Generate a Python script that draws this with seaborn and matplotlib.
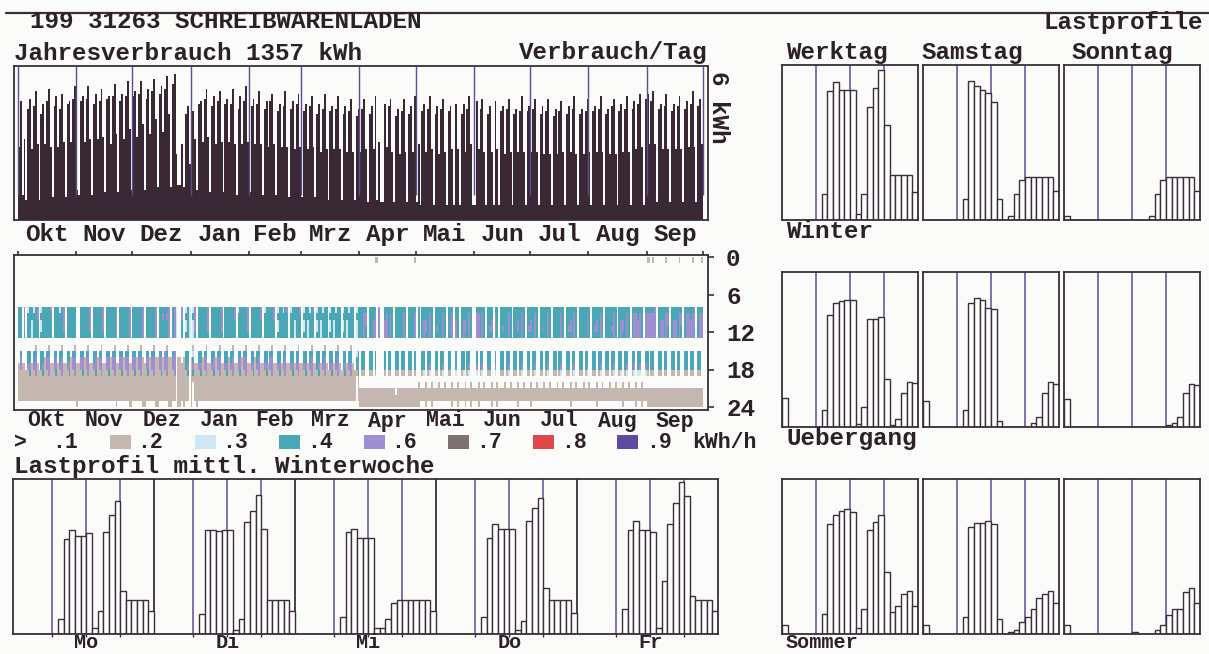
import numpy as np
import matplotlib
matplotlib.use("Agg")
import matplotlib.pyplot as plt
from matplotlib.colors import ListedColormap, BoundaryNorm
from matplotlib.patches import Rectangle
from matplotlib.lines import Line2D
import seaborn as sns

# ---------------------------------------------------------------- data
TITLE = "199 31263 SCHREIBWARENLADEN"
MONTHS = ["Okt", "Nov", "Dez", "Jan", "Feb", "Mrz", "Apr", "Mai", "Jun", "Jul", "Aug", "Sep"]
DAYS_IN_MONTH = [31, 30, 31, 31, 28, 31, 30, 31, 30, 31, 31, 30]
MONTH_SEASON = ["W", "W", "W", "W", "W", "W", "U", "S", "S", "S", "S", "U"]
FIRST_WEEKDAY = 2  # 1 Okt = Mittwoch

# daily consumption in kWh (Okt .. Sep)
OKT = [2.9, 4.7, 1.0, 3.2, 0.8, 4.4, 4.8, 2.8, 4.5, 5.1, 3.0, 0.8, 4.2, 4.6, 3.0, 4.7,
       5.2, 2.9, 0.9, 4.5, 4.9, 2.9, 4.4, 5.0, 3.1, 0.9, 4.6, 4.7, 3.1, 4.8, 5.3]
NOV = [1.2, 1.0, 4.7, 4.9, 3.1, 4.8, 5.3, 3.2, 1.0, 4.6, 5.0, 3.2, 4.7, 5.2, 3.3, 1.1,
       4.8, 4.9, 3.0, 4.9, 5.4, 3.4, 1.1, 4.7, 5.0, 3.2, 4.9, 5.5, 3.6, 1.2]
DEZ = [4.9, 5.1, 3.3, 5.0, 5.5, 3.8, 1.2, 4.8, 5.2, 3.4, 5.1, 5.6, 4.0, 1.3, 5.0, 5.3,
       3.5, 5.2, 5.7, 4.2, 1.3, 5.4, 5.8, 2.6, 1.4, 1.4, 3.0, 1.3, 4.2, 4.5, 2.2]
JAN = [1.3, 4.3, 3.2, 1.2, 4.6, 4.7, 3.1, 4.8, 5.2, 3.3, 1.1, 4.5, 4.9, 3.0, 4.7, 5.1,
       3.1, 1.1, 4.6, 4.8, 3.1, 4.6, 5.2, 3.0, 1.0, 4.4, 4.9, 3.0, 4.7, 5.3, 3.1]
FEB = [1.1, 4.5, 4.8, 3.0, 4.6, 5.1, 3.0, 1.0, 4.4, 4.7, 2.9, 4.7, 5.0, 3.0, 1.0, 4.3,
       4.6, 2.9, 4.5, 5.1, 2.9, 0.9, 4.4, 4.7, 2.8, 4.6, 5.0, 2.9]
MRZ = [0.9, 4.3, 4.6, 2.8, 4.5, 4.9, 2.9, 0.9, 4.2, 4.6, 2.7, 4.4, 5.0, 2.8, 0.8, 4.3,
       4.5, 2.8, 4.4, 4.9, 2.8, 0.8, 4.2, 4.5, 2.7, 4.3, 4.8, 2.7, 0.8, 4.1, 4.4]
APR = [2.7, 4.4, 4.8, 2.8, 0.7, 4.2, 4.5, 2.8, 4.9, 0.8, 3.1, 0.7, 0.7, 4.6, 2.9, 4.5,
       4.8, 2.7, 0.7, 4.1, 4.4, 2.6, 4.3, 4.8, 2.7, 0.7, 4.2, 4.5, 2.7, 4.9]
MAI = [0.7, 3.0, 0.6, 4.3, 4.6, 2.7, 4.4, 4.9, 2.8, 0.6, 4.2, 4.5, 2.6, 4.4, 4.8, 2.7,
       0.6, 4.3, 4.5, 2.8, 0.6, 4.6, 2.8, 0.6, 4.2, 4.6, 2.7, 4.4, 4.9, 3.0, 0.6]
JUN = [0.6, 4.7, 2.8, 4.4, 4.8, 2.7, 0.6, 4.2, 4.5, 2.7, 0.6, 4.7, 2.8, 0.6, 4.3, 4.5,
       2.6, 4.4, 4.8, 2.7, 0.6, 4.2, 4.4, 2.7, 4.3, 4.9, 2.7, 0.6, 4.3, 4.5]
JUL = [2.7, 4.4, 4.8, 2.7, 0.6, 4.2, 4.5, 2.6, 4.3, 4.8, 2.6, 0.6, 4.1, 4.4, 2.6, 4.3,
       4.7, 2.7, 0.6, 4.2, 4.5, 2.7, 4.4, 4.9, 2.6, 0.6, 4.2, 4.4, 2.6, 4.3, 4.8]
AUG = [2.7, 0.6, 4.3, 4.5, 2.7, 4.4, 4.9, 2.7, 0.6, 4.2, 4.4, 2.6, 4.5, 4.8, 2.6, 0.6,
       4.3, 4.6, 2.7, 4.4, 4.9, 2.7, 0.6, 4.4, 4.7, 2.8, 4.6, 5.0, 2.9, 0.6, 4.8]
SEP = [5.0, 3.0, 4.7, 5.1, 3.0, 0.7, 4.4, 4.6, 2.8, 4.5, 5.0, 2.8, 0.7, 4.3, 4.6, 2.8,
       4.5, 4.9, 2.8, 0.7, 4.4, 4.7, 2.9, 4.6, 5.1, 2.9, 0.7, 4.5, 4.8, 3.0]

# mean hourly load profiles in kWh/h (hours 0..23)
WINTER_WERKTAG = [0, 0, 0, 0, 0, 0, 0, 0.083, 0.415, 0.445, 0.42, 0.42, 0.42, 0.02, 0.085,
                  0.365, 0.425, 0.485, 0.305, 0.145, 0.145, 0.145, 0.145, 0.09]
WINTER_SAMSTAG = [0, 0, 0, 0, 0, 0, 0, 0.068, 0.45, 0.433, 0.42, 0.41, 0.38, 0.068, 0,
                  0.013, 0.085, 0.13, 0.14, 0.14, 0.14, 0.14, 0.14, 0.095]
WINTER_SONNTAG = [0.013, 0, 0, 0, 0, 0, 0, 0, 0, 0, 0, 0, 0, 0, 0,
                  0.013, 0.085, 0.13, 0.14, 0.14, 0.14, 0.14, 0.14, 0.095]
UEB_WERKTAG = [0.095, 0, 0, 0, 0, 0, 0, 0.055, 0.36, 0.40, 0.405, 0.41, 0.41, 0.01, 0.065,
               0.35, 0.35, 0.355, 0.155, 0.005, 0.025, 0.11, 0.145, 0.143]
UEB_SAMSTAG = [0.085, 0, 0, 0, 0, 0, 0, 0.055, 0.40, 0.415, 0.41, 0.385, 0.38, 0.018, 0,
               0, 0, 0, 0, 0.013, 0.033, 0.11, 0.145, 0.14]
UEB_SONNTAG = [0.09, 0, 0, 0, 0, 0, 0, 0, 0, 0, 0, 0, 0, 0, 0,
               0, 0, 0, 0.008, 0.013, 0.033, 0.11, 0.14, 0.135]
UEB_MITTWOCH = [0.095, 0, 0, 0, 0, 0, 0, 0.055, 0.36, 0.40, 0.405, 0.41, 0.41, 0.01, 0,
                0, 0.01, 0.02, 0.03, 0.013, 0.033, 0.11, 0.145, 0.14]
SOM_WERKTAG = [0.03, 0, 0, 0, 0, 0, 0, 0.065, 0.355, 0.385, 0.398, 0.403, 0.393, 0.018, 0.08,
               0.335, 0.36, 0.385, 0.20, 0.07, 0.09, 0.13, 0.14, 0.09]
SOM_SAMSTAG = [0.03, 0, 0, 0, 0, 0, 0, 0.055, 0.345, 0.358, 0.358, 0.365, 0.355, 0.05, 0,
               0.005, 0.013, 0.04, 0.055, 0.08, 0.115, 0.13, 0.14, 0.10]
SOM_SONNTAG = [0.03, 0, 0, 0, 0, 0, 0, 0, 0, 0, 0, 0, 0.005, 0, 0,
               0, 0.013, 0.03, 0.06, 0.08, 0.08, 0.135, 0.15, 0.10]
SOM_MITTWOCH = [0.03, 0, 0, 0, 0, 0, 0, 0.065, 0.355, 0.385, 0.398, 0.403, 0.393, 0.018, 0,
                0.005, 0.013, 0.04, 0.055, 0.08, 0.115, 0.13, 0.14, 0.10]

# mean winter week, Mo..Fr, kWh/h
WOCHE_MO = [0, 0, 0, 0, 0, 0, 0, 0.049, 0.305, 0.335, 0.315, 0.315, 0.325, 0.019, 0.075,
            0.33, 0.385, 0.428, 0.14, 0.11, 0.11, 0.11, 0.11, 0.075]
WOCHE_DI = [0, 0, 0, 0, 0, 0, 0, 0.064, 0.335, 0.335, 0.333, 0.335, 0.335, 0.013, 0.05,
            0.36, 0.398, 0.447, 0.34, 0.11, 0.11, 0.11, 0.11, 0.075]
WOCHE_MI = [0, 0, 0, 0, 0, 0, 0, 0.055, 0.33, 0.34, 0.31, 0.31, 0.31, 0.019, 0.019,
            0.048, 0.10, 0.11, 0.11, 0.11, 0.11, 0.11, 0.11, 0.075]
WOCHE_DO = [0, 0, 0, 0, 0, 0, 0, 0.055, 0.31, 0.355, 0.34, 0.34, 0.34, 0.013, 0.042,
            0.365, 0.405, 0.438, 0.148, 0.11, 0.11, 0.11, 0.11, 0.067]
WOCHE_FR = [0, 0, 0, 0, 0, 0, 0, 0.08, 0.335, 0.365, 0.335, 0.335, 0.33, 0.019, 0.17,
            0.355, 0.423, 0.49, 0.445, 0.123, 0.11, 0.11, 0.11, 0.075]
WEEK_DAYS = ["Mo", "Di", "Mi", "Do", "Fr"]

LEGEND_LEVELS = [".1", ".2", ".3", ".4", ".6", ".7", ".8", ".9"]
LEGEND_BOUNDS = [0, 0.1, 0.2, 0.3, 0.4, 0.6, 0.7, 0.8, 0.9, 10]
HOUR_LABELS = ["0", "6", "12", "18", "24"]

# ---------------------------------------------------------------- style
W, H = 1209, 654
BG = "#fbfbf9"
INK = "#2c2029"
FRAME = "#3b2d39"
BARC = "#3a2935"
PURPLE_LINE = "#5b4b9d"
CLASS_COLORS = [BG, "#c3b7b0", "#cde8f2", "#4aa8b6", "#9f8fd0", "#7c7270",
                "#e0474c", "#5e4a9e", "#3d2f7a"]
FS = 17.5
FS_SMALL = 15.5
FS_BOTTOM = 14.5

sns.set_theme(style="white")
plt.rcParams["font.family"] = ["Liberation Mono", "DejaVu Sans Mono"]
plt.rcParams["font.weight"] = "bold"

fig = plt.figure(figsize=(W / 100, H / 100), dpi=100, facecolor=BG)


def box(x0, y0, x1, y1):
    return [x0 / W, 1 - y1 / H, (x1 - x0) / W, (y1 - y0) / H]


def ftext(x, y, s, size=FS, **kw):
    kw.setdefault("va", "center")
    fig.text(x / W, 1 - y / H, s, color=INK, fontsize=size, fontweight="bold", **kw)


def frame(ax, lw=1.3):
    ax.set_facecolor("none")
    for sp in ax.spines.values():
        sp.set_visible(True)
        sp.set_color(FRAME)
        sp.set_linewidth(lw)
    ax.set_xlabel("")
    ax.set_ylabel("")


daily = np.array(OKT + NOV + DEZ + JAN + FEB + MRZ + APR + MAI + JUN + JUL + AUG + SEP)
bounds = np.concatenate([[0], np.cumsum(DAYS_IN_MONTH)])
centers = (bounds[:-1] + bounds[1:]) / 2
XLIM = (-2.1, 367.7)

# ---------------------------------------------------------------- header
fig.add_artist(Line2D([6 / W, 1.0], [1 - 12.5 / H] * 2, color=FRAME, lw=1.6))
ftext(30, 22, TITLE, ha="left")
ftext(1203, 22, "Lastprofile", ha="right")
ftext(14, 53, "Jahresverbrauch 1357 kWh", ha="left")
ftext(707, 53, "Verbrauch/Tag", ha="right")

# ---------------------------------------------------------------- daily bars
ax1 = fig.add_axes(box(14, 66, 708, 220))
sns.barplot(x=np.arange(365) + 0.5, y=daily, native_scale=True, width=1.0, color=BARC,
            saturation=1, linewidth=0, errorbar=None, antialiased=False, ax=ax1)
ax1.vlines(bounds, 1.0, 6.1, color=PURPLE_LINE, lw=1.0, zorder=3)
ax1.set_xlim(*XLIM)
ax1.set_ylim(0, 6.1)
ax1.set_xticks([])
ax1.set_yticks([])
frame(ax1)
for c, m in zip(centers, MONTHS):
    ax1.text(c, -14 / 154, m, transform=ax1.get_xaxis_transform(), ha="center", va="center",
             color=INK, fontsize=FS, fontweight="bold")
ftext(718, 71, "6 kWh", ha="center", va="top", rotation=270)

# ---------------------------------------------------------------- heatmap
PROFILES = {
    ("W", "Mo"): WOCHE_MO, ("W", "Di"): WOCHE_DI, ("W", "Mi"): WOCHE_MI,
    ("W", "Do"): WOCHE_DO, ("W", "Fr"): WOCHE_FR,
    ("W", "Sa"): WINTER_SAMSTAG, ("W", "So"): WINTER_SONNTAG,
    ("U", "Wt"): UEB_WERKTAG, ("U", "Mi"): UEB_MITTWOCH, ("U", "Sa"): UEB_SAMSTAG,
    ("U", "So"): UEB_SONNTAG,
    ("S", "Wt"): SOM_WERKTAG, ("S", "Mi"): SOM_MITTWOCH, ("S", "Sa"): SOM_SAMSTAG,
    ("S", "So"): SOM_SONNTAG,
}
month_of_day = np.repeat(np.arange(12), DAYS_IN_MONTH)
keys = []
for i in range(365):
    s = MONTH_SEASON[month_of_day[i]]
    wd = (FIRST_WEEKDAY + i) % 7
    if wd == 6 or daily[i] < 1.5:
        t = "So"
    elif wd == 5:
        t = "Sa"
    elif s == "W":
        t = WEEK_DAYS[wd]
    elif wd == 2:
        t = "Mi"
    else:
        t = "Wt"
    keys.append((s, t))
key_mean = {k: np.mean([daily[i] for i in range(365) if keys[i] == k]) for k in set(keys)}
M = np.zeros((24, 365))
for i in range(365):
    M[:, i] = np.array(PROFILES[keys[i]]) * daily[i] / key_mean[keys[i]]

ax2 = fig.add_axes(box(14, 255, 708, 410))
cmap = ListedColormap(CLASS_COLORS)
norm = BoundaryNorm(LEGEND_BOUNDS, cmap.N)
sns.heatmap(M, ax=ax2, cmap=cmap, norm=norm, cbar=False, xticklabels=False,
            yticklabels=False)
ax2.set_xlim(*XLIM)
ax2.set_ylim(24.48, -0.32)
frame(ax2)
ax2.set_xticks(bounds)
ax2.set_xticklabels([])
ax2.set_yticks([0, 6, 12, 18, 24])
ax2.set_yticklabels(HOUR_LABELS)
ax2.tick_params(axis="x", top=True, bottom=False, labeltop=False, labelbottom=False,
                direction="out", length=3, width=1.2, color=FRAME)
ax2.tick_params(axis="y", left=False, right=True, labelleft=False, labelright=True,
                direction="out", length=4, width=1.2, color=FRAME, pad=9,
                labelsize=FS, labelcolor=INK)
for lab in ax2.get_yticklabels():
    lab.set_fontweight("bold")
for c, m in zip(centers, MONTHS):
    ax2.text(c, -11 / 155, m, transform=ax2.get_xaxis_transform(), ha="center", va="center",
             color=INK, fontsize=FS_SMALL, fontweight="bold")

# ---------------------------------------------------------------- legend
LEG_Y = 443
ftext(14, LEG_Y, ">", size=FS_SMALL, ha="left")
for k, lab in enumerate(LEGEND_LEVELS):
    ftext(52 + 84.9 * k, LEG_Y, lab, size=FS_SMALL, ha="left")
for k, col in enumerate(CLASS_COLORS[1:8]):
    x0 = 110 + 84.5 * k
    fig.add_artist(Rectangle((x0 / W, 1 - 449 / H), 21 / W, 14 / H, transform=fig.transFigure,
                             facecolor=col, edgecolor="none"))
ftext(692, LEG_Y, "kWh/h", size=FS_SMALL, ha="left")

# ---------------------------------------------------------------- winter week
ftext(14, 467, "Lastprofil mittl. Winterwoche", ha="left")
DAY_SLOT = 25
WOCHE = [WOCHE_MO, WOCHE_DI, WOCHE_MI, WOCHE_DO, WOCHE_FR]
hours = np.arange(24) + 0.5
xw = np.concatenate([DAY_SLOT * d + 1 + hours for d in range(5)])
yw = np.concatenate([np.array(p) for p in WOCHE])
ax4 = fig.add_axes(box(13, 479, 718, 634))
purple_pos = [DAY_SLOT * d + 1 + hh for d in range(5) for hh in (6, 12, 18)]
ax4.vlines(purple_pos, 0, 0.5, color=PURPLE_LINE, lw=1.1, zorder=0.5)
ax4.vlines([DAY_SLOT * d for d in range(1, 5)], 0, 0.5, color=FRAME, lw=1.3, zorder=0.5)
sns.barplot(x=xw, y=yw, native_scale=True, width=1.0, color="white", saturation=1,
            edgecolor=FRAME, linewidth=1.0, errorbar=None, ax=ax4)
ax4.set_xlim(0, 5 * DAY_SLOT)
ax4.set_ylim(0, 0.5)
frame(ax4)
ax4.set_yticks([])
ax4.set_xticks(purple_pos)
ax4.set_xticklabels([])
ax4.tick_params(axis="x", bottom=True, direction="out", length=2.5, width=1.0, color=FRAME)
for d, name in enumerate(WEEK_DAYS):
    ax4.text(DAY_SLOT * d + 13, -14 / 155, name, transform=ax4.get_xaxis_transform(),
             ha="center", va="baseline", color=INK, fontsize=FS_BOTTOM, fontweight="bold")

# ---------------------------------------------------------------- seasonal panels
PANEL_COLS = [(782, 918), (923, 1059), (1064, 1200)]
PANEL_ROWS = [(65, 220), (272, 427), (479, 634)]
PANEL_TITLES = ["Werktag", "Samstag", "Sonntag"]
PANEL_TITLE_X = [786, 922, 1072]
SEASON_NAMES = ["Winter", "Uebergang", "Sommer"]
SEASON_LABEL_Y = [232, 439, 648]
PANEL_DATA = [
    [WINTER_WERKTAG, WINTER_SAMSTAG, WINTER_SONNTAG],
    [UEB_WERKTAG, UEB_SAMSTAG, UEB_SONNTAG],
    [SOM_WERKTAG, SOM_SAMSTAG, SOM_SONNTAG],
]
for c in range(3):
    ftext(PANEL_TITLE_X[c], 53, PANEL_TITLES[c], ha="left")
for r, (y0, y1) in enumerate(PANEL_ROWS):
    for c, (x0, x1) in enumerate(PANEL_COLS):
        ax = fig.add_axes(box(x0, y0, x1, y1))
        ax.vlines([6, 12, 18], 0, 0.5, color=PURPLE_LINE, lw=1.1, zorder=0.5)
        sns.barplot(x=hours, y=PANEL_DATA[r][c], native_scale=True, width=1.0, color="white",
                    saturation=1, edgecolor=FRAME, linewidth=1.0, errorbar=None, ax=ax)
        ax.set_xlim(0, 24)
        ax.set_ylim(0, 0.5)
        ax.set_xticks([])
        ax.set_yticks([])
        frame(ax)
    if r < 2:
        ftext(786, SEASON_LABEL_Y[r], SEASON_NAMES[r], ha="left")
    else:
        ftext(786, SEASON_LABEL_Y[r], SEASON_NAMES[r], size=FS_BOTTOM, ha="left",
              va="baseline")

fig.savefig("out.png", dpi=100, facecolor=BG)
